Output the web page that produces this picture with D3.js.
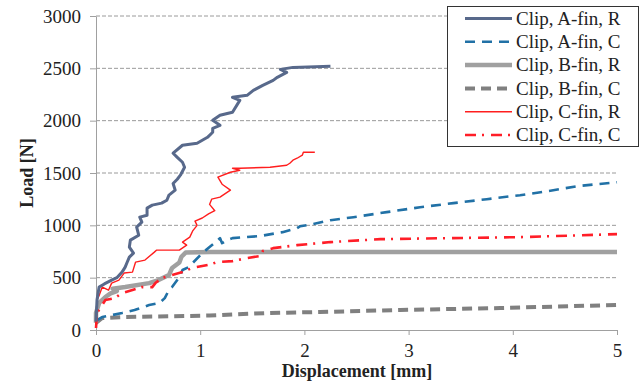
<!DOCTYPE html>
<html><head><meta charset="utf-8">
<script src="https://cdn.jsdelivr.net/npm/d3@7"></script>
<style>body{margin:0;background:#fff}svg{display:block}</style>
</head><body><svg id="c" width="640" height="385"></svg>
<script>
const xTicks = [0,1,2,3,4,5];
const yTicks = [0,500,1000,1500,2000,2500,3000];
const seriesNames = ["Clip, A-fin, R","Clip, A-fin, C","Clip, B-fin, R","Clip, B-fin, C","Clip, C-fin, R","Clip, C-fin, C"];

const aFinR = [[0,80],[0.01,290],[0.03,410],[0.08,440],[0.15,477],[0.20,500],[0.25,553],[0.28,601],[0.30,650],[0.32,697],[0.36,735],[0.32,792],[0.33,859],[0.41,906],[0.39,983],[0.44,1030],[0.42,1078],[0.49,1097],[0.49,1164],[0.54,1193],[0.63,1212],[0.68,1240],[0.70,1288],[0.76,1336],[0.74,1400],[0.78,1440],[0.81,1479],[0.85,1555],[0.83,1603],[0.78,1650],[0.74,1689],[0.83,1765],[0.97,1784],[1.07,1841],[1.12,1889],[1.12,1927],[1.19,1956],[1.12,2003],[1.19,2051],[1.31,2080],[1.38,2194],[1.31,2223],[1.45,2242],[1.51,2290],[1.60,2337],[1.70,2385],[1.74,2414],[1.83,2461],[1.77,2490],[1.89,2509],[2.25,2519]];
const aFinC = [[0.01,95],[0.06,124],[0.25,162],[0.37,191],[0.51,238],[0.61,258],[0.66,305],[0.70,382],[0.73,410],[0.80,505],[0.83,573],[0.89,601],[1.02,735],[1.09,792],[1.16,849],[1.19,878],[1.21,830],[1.26,859],[1.31,878],[1.57,897],[1.79,935],[1.93,973],[1.96,992],[2.08,1011],[2.25,1049],[2.47,1078],[2.79,1126],[3.11,1173],[3.43,1212],[3.75,1250],[4.07,1288],[4.33,1326],[4.62,1374],[5.0,1412]];
const bFinR = [[0.0,70],[0.0,163],[0.03,258],[0.09,315],[0.14,350],[0.20,372],[0.16,395],[0.28,410],[0.51,448],[0.60,477],[0.70,525],[0.73,592],[0.80,645],[0.82,700],[0.86,740],[1.1,745],[5.0,745]];
const bFinC = [[0.0,67],[0.06,115],[0.28,124],[1.09,138],[1.64,162],[2.15,172],[2.92,191],[3.88,210],[5.0,239]];
const cFinR = [[0,48],[0.01,180],[0.01,286],[0.03,330],[0.06,410],[0.12,380],[0.15,448],[0.22,477],[0.27,544],[0.35,553],[0.38,649],[0.47,668],[0.56,744],[0.58,763],[0.80,763],[0.87,811],[0.83,840],[0.90,887],[0.93,950],[0.97,1000],[0.95,1040],[1.02,1070],[1.08,1110],[1.14,1140],[1.09,1200],[1.11,1250],[1.19,1269],[1.29,1336],[1.21,1393],[1.17,1460],[1.29,1507],[1.38,1526],[1.31,1545],[1.38,1545],[1.67,1555],[1.83,1574],[1.86,1593],[1.89,1622],[1.93,1641],[1.98,1670],[1.99,1698],[2.10,1698]];
const cFinC = [[0,19],[0.01,162],[0.09,286],[0.18,305],[0.25,353],[0.35,382],[0.44,410],[0.54,410],[0.57,448],[0.63,496],[0.73,525],[0.83,553],[0.92,592],[1.02,611],[1.11,630],[1.16,649],[1.31,658],[1.45,687],[1.57,706],[1.60,754],[1.70,782],[1.93,811],[2.25,840],[2.73,868],[3.40,878],[4.07,887],[5.0,916]];

const seriesData = [aFinR, aFinC, bFinR, bFinC, cFinR, cFinC];
const styles = [
  {color:"#58698b", width:3, dash:null},
  {color:"#2171a6", width:2.6, dash:"10,7"},
  {color:"#a0a0a0", width:4.5, dash:null},
  {color:"#808080", width:4, dash:"10,6"},
  {color:"#ff1e1e", width:1.4, dash:null},
  {color:"#ff1e28", width:2.6, dash:"11,6,2,7"}
];

const svg = d3.select("#c");
const x = d3.scaleLinear().domain([0,5]).range([96,617]);
const y = d3.scaleLinear().domain([0,3000]).range([330,16]);
const font = "'Liberation Serif','Times New Roman',serif";

svg.append("g").selectAll("line").data(yTicks.filter(d=>d>0)).join("line")
  .attr("x1",96).attr("x2",617).attr("y1",d=>y(d)).attr("y2",d=>y(d))
  .attr("stroke","#9a9a9a").attr("stroke-width",1).attr("stroke-dasharray","4,2");

const yAxis = d3.axisLeft(y).tickValues(yTicks).tickSize(6).tickSizeOuter(0).tickPadding(9).tickFormat(d3.format("d"));
const gy = svg.append("g").attr("transform","translate(96,0)").call(yAxis);
gy.attr("font-family",font).attr("font-size",19);
gy.select(".domain").attr("stroke","#a0a0a0");
gy.selectAll(".tick line").attr("stroke","#a0a0a0");
gy.selectAll("text").attr("fill","#222");

const xAxis = d3.axisBottom(x).tickValues(xTicks).tickSize(5).tickSizeOuter(0).tickPadding(9).tickFormat(d3.format("d"));
const gx = svg.append("g").attr("transform","translate(0,330)").call(xAxis);
gx.attr("font-family",font).attr("font-size",19);
gx.select(".domain").attr("stroke","#a0a0a0");
gx.selectAll(".tick line").attr("stroke","#a0a0a0");
gx.selectAll("text").attr("fill","#222");

const line = d3.line().x(d=>x(d[0])).y(d=>y(d[1]));
const order = [3,2,1,5,4,0];
order.forEach(i=>{
  const s = styles[i];
  svg.append("path").datum(seriesData[i]).attr("d",line)
    .attr("fill","none").attr("stroke",s.color).attr("stroke-width",s.width)
    .attr("stroke-linejoin","round")
    .attr("stroke-dasharray",s.dash);
});

svg.append("text").attr("x",357).attr("y",377).attr("text-anchor","middle")
  .attr("font-family",font).attr("font-weight","bold").attr("font-size",18).attr("fill","#222")
  .text("Displacement [mm]");
svg.append("text").attr("transform","translate(33,173) rotate(-90)").attr("text-anchor","middle")
  .attr("font-family",font).attr("font-weight","bold").attr("font-size",18).attr("fill","#222")
  .text("Load [N]");

const lg = svg.append("g");
lg.append("rect").attr("x",447.5).attr("y",6.5).attr("width",191).attr("height",140)
  .attr("fill","#fff").attr("stroke","#333").attr("stroke-width",1);
const ly = d3.scalePoint().domain(seriesNames).range([18.5,135]);
seriesNames.forEach((n,i)=>{
  const s = styles[i];
  lg.append("line").attr("x1",465).attr("x2",512).attr("y1",ly(n)).attr("y2",ly(n))
    .attr("stroke",s.color).attr("stroke-width",s.width).attr("stroke-dasharray",s.dash);
  lg.append("text").attr("x",516).attr("y",ly(n)).attr("dy","0.33em")
    .attr("font-family",font).attr("font-size",19).attr("fill","#222").text(n);
});
</script></body></html>
